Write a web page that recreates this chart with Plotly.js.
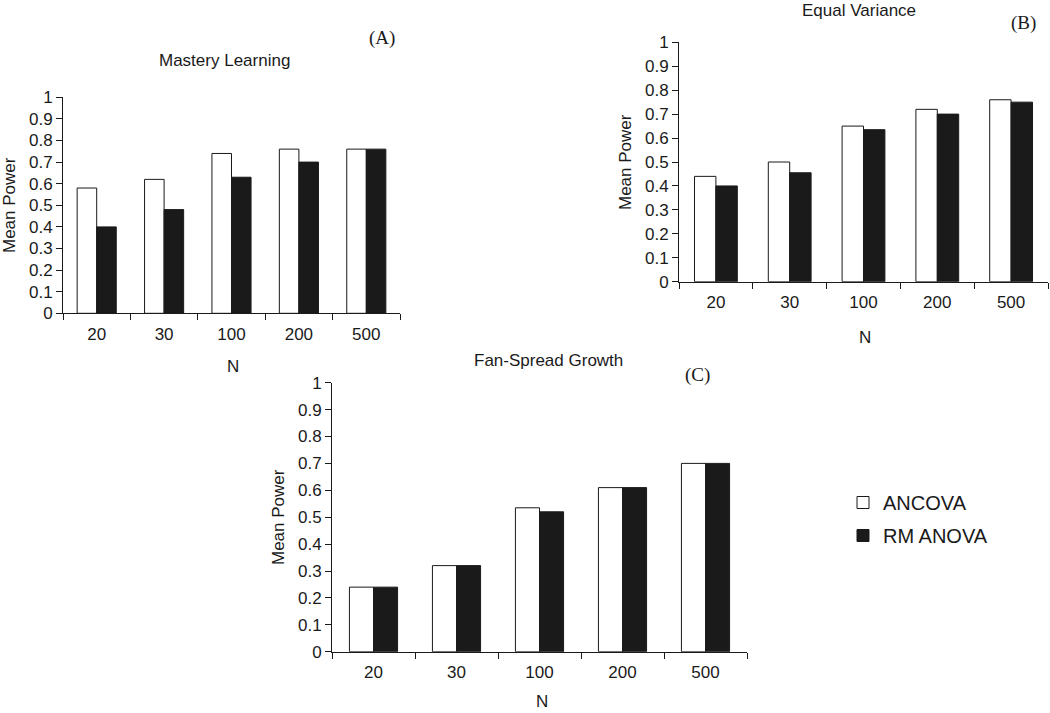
<!DOCTYPE html>
<html>
<head>
<meta charset="utf-8">
<script src="https://cdn.plot.ly/plotly-3.0.1.min.js"></script>
<style>
  html, body { margin: 0; padding: 0; background: #ffffff; }
  #chart { width: 1050px; height: 713px; }
</style>
</head>
<body>
<div id="chart"></div>
<script>
// ---- Data ----
const categories = ['20', '30', '100', '200', '500'];
const seriesNames = ['ANCOVA', 'RM ANOVA'];

const masteryAncova = [0.58, 0.62, 0.74, 0.76, 0.76];
const masteryRm     = [0.40, 0.48, 0.63, 0.70, 0.76];

const equalAncova   = [0.44, 0.50, 0.65, 0.72, 0.76];
const equalRm       = [0.40, 0.455, 0.635, 0.70, 0.75];

const fanAncova     = [0.24, 0.32, 0.535, 0.61, 0.70];
const fanRm         = [0.24, 0.32, 0.52, 0.61, 0.70];

const yTickVals = [0, 0.1, 0.2, 0.3, 0.4, 0.5, 0.6, 0.7, 0.8, 0.9, 1];
const yTickText = ['0', '0.1', '0.2', '0.3', '0.4', '0.5', '0.6', '0.7', '0.8', '0.9', '1'];

const panelTitles = ['Mastery Learning', 'Equal Variance', 'Fan-Spread Growth'];
const panelLabels = ['(A)', '(B)', '(C)'];
const xTitle = 'N';
const yTitle = 'Mean Power';

// ---- Layout helpers ----
const W = 1050, H = 713;
const px = v => v / W;          // pixel x -> paper
const py = v => 1 - v / H;      // pixel y (from top) -> paper

const SANS = '"Liberation Sans", Arial, Helvetica, sans-serif';
const SERIF = '"Liberation Serif", "Times New Roman", serif';
const INK = '#1a1a1a';
const WHITE_FILL = '#ffffff';
const BLACK_FILL = '#1a1a1a';

function barPair(a, b, xa, ya, showLegend) {
  return [
    {
      type: 'bar', name: seriesNames[0], x: categories, y: a,
      xaxis: xa, yaxis: ya, legendgroup: 'g1', showlegend: showLegend,
      marker: { color: WHITE_FILL, line: { color: INK, width: 1 } },
      hoverinfo: 'x+y+name'
    },
    {
      type: 'bar', name: seriesNames[1], x: categories, y: b,
      xaxis: xa, yaxis: ya, legendgroup: 'g2', showlegend: showLegend,
      marker: { color: BLACK_FILL, line: { color: INK, width: 1 } },
      hoverinfo: 'x+y+name'
    }
  ];
}

const data = [
  ...barPair(masteryAncova, masteryRm, 'x', 'y', true),
  ...barPair(equalAncova, equalRm, 'x2', 'y2', false),
  ...barPair(fanAncova, fanRm, 'x3', 'y3', false)
];

function xAxis(d0, d1, anchor) {
  return {
    domain: [px(d0), px(d1)], anchor: anchor, type: 'category',
    tickson: 'boundaries', ticks: 'outside', ticklen: 6, tickwidth: 1, tickcolor: INK,
    showline: true, linecolor: INK, linewidth: 1,
    showgrid: false, zeroline: false,
    tickfont: { family: SANS, size: 17, color: INK },
    ticklabelstandoff: 5, fixedrange: true
  };
}
function yAxis(top, bottom, anchor) {
  return {
    domain: [py(bottom), py(top)], anchor: anchor, range: [0, 1],
    tickmode: 'array', tickvals: yTickVals, ticktext: yTickText,
    ticks: 'outside', ticklen: 6, tickwidth: 1, tickcolor: INK,
    showline: true, linecolor: INK, linewidth: 1,
    showgrid: false, zeroline: false,
    tickfont: { family: SANS, size: 17, color: INK }, fixedrange: true
  };
}

function ann(text, x, y, opts) {
  return Object.assign({
    text: text, xref: 'paper', yref: 'paper', x: px(x), y: py(y),
    xanchor: 'center', yanchor: 'middle', showarrow: false,
    font: { family: SANS, size: 17, color: INK }
  }, opts || {});
}

const labelFont = { family: SERIF, size: 19, color: INK };

const annotations = [
  ann(panelTitles[0], 224, 60),
  ann(panelTitles[1], 859, 10),
  ann(panelTitles[2], 548, 360),
  ann(panelLabels[0], 382, 38, { font: labelFont }),
  ann(panelLabels[1], 1023, 23, { font: labelFont }),
  ann(panelLabels[2], 697, 375, { font: labelFont }),
  ann(xTitle, 233, 367),
  ann(xTitle, 865, 337),
  ann(xTitle, 542, 701),
  ann(yTitle, 9, 205, { textangle: -90 }),
  ann(yTitle, 625, 162, { textangle: -90 }),
  ann(yTitle, 278, 517, { textangle: -90 })
];

const layout = {
  width: W, height: H,
  margin: { l: 0, r: 0, t: 0, b: 0, pad: 0 },
  paper_bgcolor: '#ffffff', plot_bgcolor: 'rgba(0,0,0,0)',
  font: { family: SANS, size: 17, color: INK },
  barmode: 'group', bargap: 0.42, bargroupgap: 0,
  showlegend: true,
  legend: {
    x: px(843), y: py(519), xanchor: 'left', yanchor: 'middle',
    font: { family: SANS, size: 20, color: INK },
    bgcolor: 'rgba(0,0,0,0)', borderwidth: 0,
    tracegroupgap: 4, itemwidth: 30
  },
  xaxis: xAxis(63, 400, 'y'),
  yaxis: yAxis(97.3, 313.3, 'x'),
  xaxis2: xAxis(679, 1048, 'y2'),
  yaxis2: yAxis(42.3, 281.7, 'x2'),
  xaxis3: xAxis(332, 747, 'y3'),
  yaxis3: yAxis(382.7, 651.7, 'x3'),
  annotations: annotations
};

Plotly.newPlot('chart', data, layout, { displayModeBar: false, staticPlot: true });
</script>
</body>
</html>
